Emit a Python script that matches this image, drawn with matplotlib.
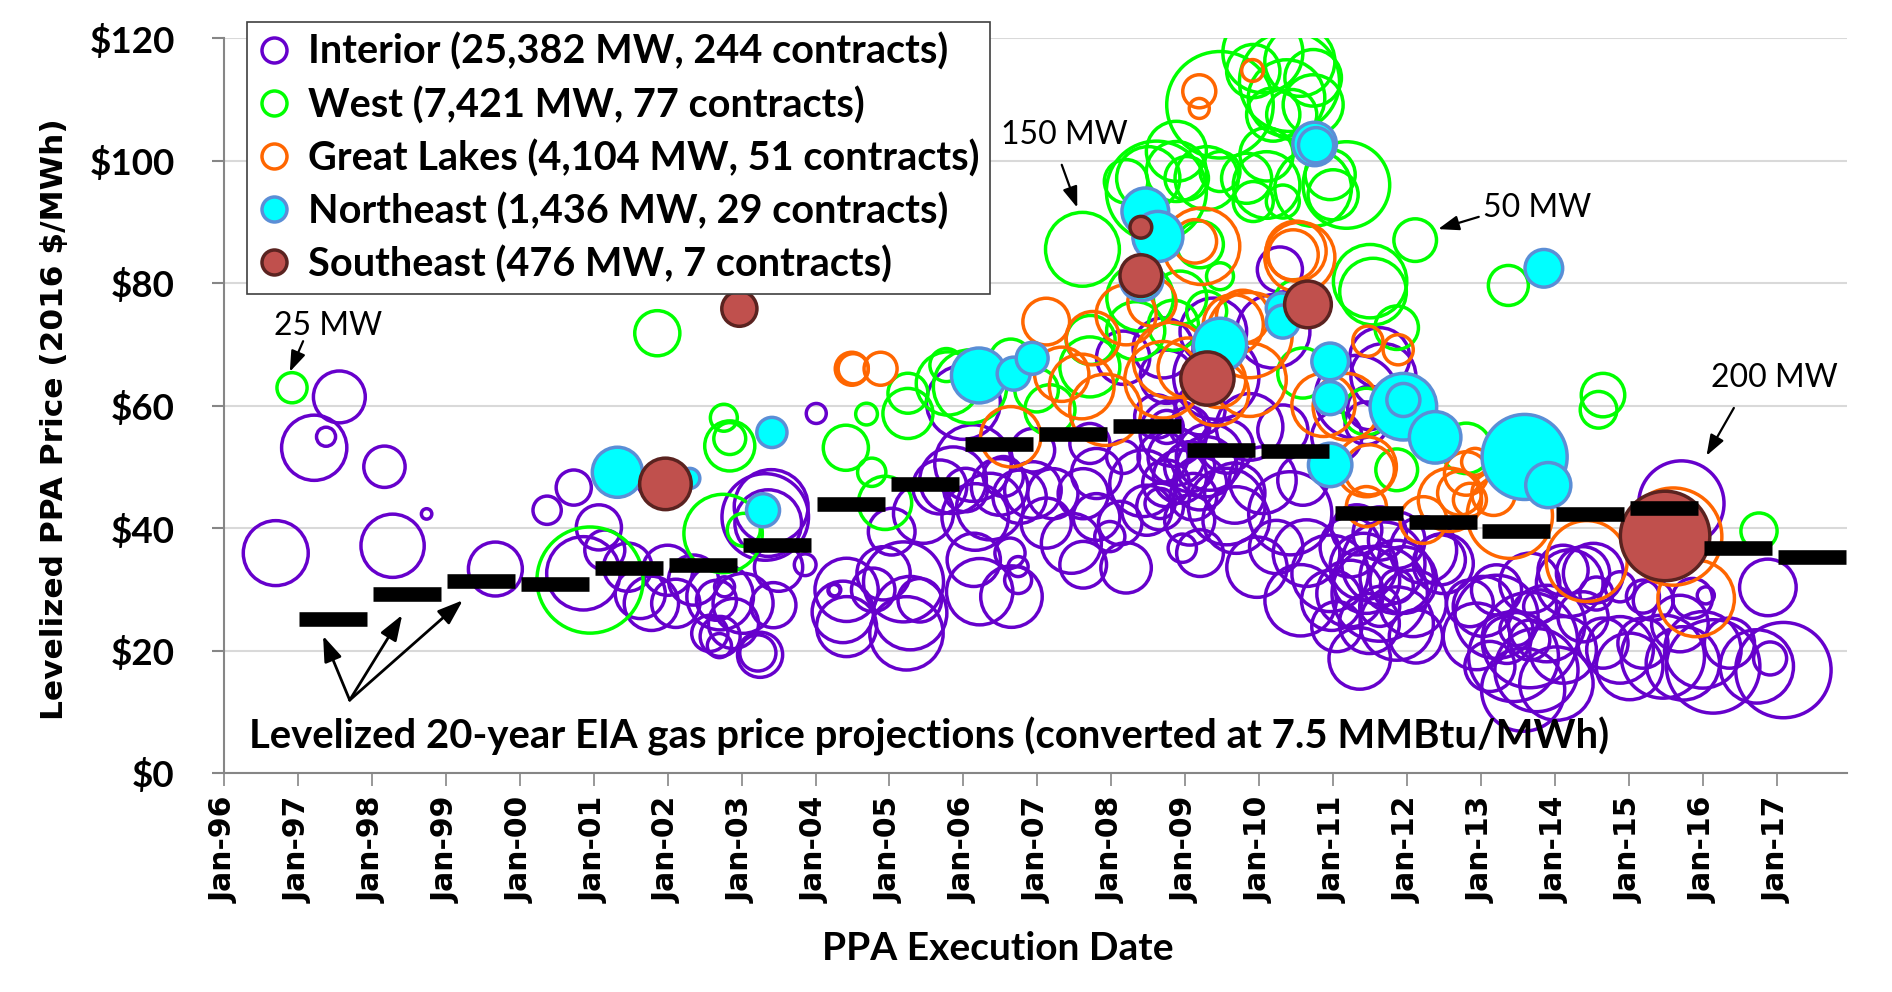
import matplotlib
matplotlib.use("Agg")
import matplotlib.pyplot as plt
from matplotlib.lines import Line2D
from matplotlib.font_manager import FontProperties
import numpy as np

# ---------------- data: (execution year, levelized price $/MWh, capacity MW) ----------------
interior = [
    (1996.70, 35.9, 116), (1997.22, 53.1, 117), (1997.38, 54.9, 10), (1997.56, 61.4, 74),
    (1998.17, 50.0, 47), (1998.28, 37.1, 110), (1998.74, 42.3, 3), (1999.67, 33.3, 80),
    (2000.37, 42.9, 22), (2000.73, 46.6, 34), (2000.86, 32.6, 148), (2001.07, 40.1, 56),
    (2001.15, 36.4, 44), (2001.80, 47.4, 25), (2002.00, 33.1, 69), (2001.63, 29.3, 69),
    (2002.35, 31.5, 69), (2001.46, 33.6, 64), (2001.78, 27.7, 81), (2002.11, 27.7, 64),
    (2002.57, 22.8, 36), (2002.66, 28.2, 44), (2002.70, 20.8, 16),
    (2003.32, 41.8, 206), (2003.36, 40.8, 122), (2003.40, 43.5, 150), (2003.86, 34.0, 13),
    (2004.25, 29.8, 4), (2004.01, 58.7, 11), (2002.71, 28.8, 122), (2003.02, 27.7, 99),
    (2003.43, 27.4, 56), (2002.71, 22.3, 44), (2003.25, 19.3, 56), (2002.77, 30.4, 11),
    (2002.89, 24.4, 69), (2003.22, 19.6, 36), (2003.50, 33.6, 64),
    (2004.42, 29.9, 110), (2004.37, 26.3, 104), (2004.26, 29.9, 4), (2004.42, 23.9, 99),
    (2004.78, 29.9, 52), (2004.92, 32.6, 78), (2005.19, 31.2, 176), (2005.28, 26.1, 148),
    (2005.41, 28.2, 52), (2005.23, 22.8, 148), (2005.03, 39.4, 60), (2005.46, 42.4, 99),
    (2005.86, 47.8, 122), (2005.68, 46.7, 80),
    (2006.65, 28.8, 104), (2006.74, 31.5, 20), (2006.74, 33.7, 11), (2006.14, 34.8, 78),
    (2006.16, 41.8, 122), (2006.03, 46.2, 52), (2006.36, 43.5, 122), (2006.49, 46.7, 88),
    (2006.94, 46.2, 88), (2007.12, 40.8, 69), (2007.46, 37.5, 99), (2007.80, 41.8, 60),
    (2007.98, 38.6, 25), (2008.12, 40.8, 52), (2008.48, 42.9, 69), (2008.66, 44.0, 25),
    (2008.96, 36.7, 22), (2008.88, 51.6, 88), (2007.80, 48.9, 69), (2008.16, 51.6, 30),
    (2006.94, 52.7, 52), (2006.13, 50.6, 161), (2006.00, 60.5, 150), (2006.54, 48.4, 44),
    (2006.76, 45.1, 78), (2007.21, 45.6, 69), (2007.62, 45.6, 69), (2008.43, 47.3, 122),
    (2008.74, 47.3, 60), (2009.20, 47.3, 78), (2007.71, 53.8, 44), (2008.61, 58.2, 52),
    (2006.63, 35.9, 25), (2006.22, 29.6, 121), (2007.62, 34.0, 60), (2008.20, 33.5, 70),
    (2010.28, 82.2, 56), (2009.38, 72.1, 122), (2010.19, 72.1, 148), (2008.70, 69.4, 99),
    (2008.16, 67.8, 78), (2011.63, 67.8, 99), (2008.75, 64.7, 78), (2008.84, 55.5, 122),
    (2009.20, 59.3, 69), (2009.33, 51.6, 122), (2009.06, 50.0, 69), (2009.42, 64.7, 200),
    (2011.68, 64.8, 116), (2011.32, 61.4, 190), (2011.45, 57.1, 50), (2009.87, 56.5, 122),
    (2010.32, 56.0, 69), (2009.56, 53.3, 78), (2009.06, 56.5, 44), (2008.75, 56.5, 30),
    (2008.70, 51.6, 69), (2008.93, 48.4, 78), (2009.29, 50.0, 99), (2009.56, 43.5, 161),
    (2009.11, 45.1, 60), (2008.66, 43.5, 60), (2010.05, 47.8, 122), (2010.42, 42.4, 190),
    (2010.23, 36.9, 78), (2010.64, 35.9, 122), (2010.59, 47.8, 69), (2011.05, 54.9, 69),
    (2011.49, 59.6, 52), (2009.06, 41.3, 69), (2009.69, 41.3, 122), (2009.20, 35.9, 60),
    (2009.97, 33.6, 100), (2010.98, 28.2, 100), (2010.56, 28.2, 140), (2009.67, 45.7, 100),
    (2010.96, 32.6, 161), (2011.23, 36.9, 99), (2011.45, 31.5, 122), (2011.68, 34.2, 190),
    (2011.95, 31.5, 122), (2012.49, 34.2, 99), (2011.32, 39.7, 69), (2011.86, 38.0, 88),
    (2011.36, 18.7, 104), (2011.63, 29.3, 250), (2011.41, 33.7, 122), (2011.86, 32.0, 148),
    (2012.08, 27.7, 122), (2012.22, 36.4, 122), (2012.45, 34.8, 69), (2011.86, 24.4, 148),
    (2011.23, 29.3, 122), (2011.05, 23.9, 69), (2011.63, 39.1, 78), (2011.49, 24.4, 99),
    (2012.12, 22.3, 78), (2011.63, 27.2, 44), (2011.86, 30.5, 30),
    (2013.66, 21.7, 250), (2013.21, 25.5, 190), (2013.44, 19.0, 222), (2013.89, 24.4, 161),
    (2013.75, 16.8, 190), (2014.11, 20.1, 122), (2013.21, 29.9, 69), (2013.03, 27.2, 99),
    (2012.94, 22.3, 122), (2013.66, 31.0, 99), (2014.20, 31.0, 122), (2014.11, 33.1, 69),
    (2013.57, 13.6, 190), (2014.02, 14.6, 148), (2013.35, 21.7, 60), (2013.66, 21.7, 44),
    (2013.12, 17.4, 69), (2012.85, 27.7, 60), (2014.38, 25.5, 69), (2013.80, 27.2, 30),
    (2013.48, 23.5, 30), (2014.56, 29.3, 30), (2014.38, 32.6, 78), (2014.52, 32.6, 99),
    (2014.88, 20.1, 122), (2014.65, 21.2, 69), (2015.19, 21.2, 69), (2015.01, 17.4, 122),
    (2015.46, 19.0, 190), (2015.73, 17.9, 148), (2016.00, 20.1, 161), (2016.14, 17.4, 240),
    (2016.36, 21.2, 69), (2015.69, 24.4, 88), (2015.33, 28.2, 44), (2016.04, 29.0, 8),
    (2015.86, 28.5, 44), (2014.88, 30.4, 25), (2015.19, 28.8, 30), (2016.88, 30.3, 88),
    (2016.91, 18.7, 30), (2017.09, 16.8, 250), (2016.73, 17.4, 148), (2015.71, 44.0, 200),
]

west = [
    (1996.92, 62.9, 25), (2000.95, 31.5, 310), (2001.86, 71.8, 56), (2002.76, 58.0, 20),
    (2002.84, 54.6, 28), (2002.84, 53.4, 69), (2002.75, 39.1, 169), (2003.03, 39.7, 30),
    (2004.41, 53.1, 56), (2004.69, 58.6, 13), (2004.76, 49.1, 22), (2004.94, 44.1, 78),
    (2005.25, 62.0, 44), (2005.25, 58.7, 69), (2005.77, 66.6, 30), (2006.09, 63.1, 148),
    (2005.79, 63.6, 110), (2006.64, 67.4, 49), (2006.99, 62.5, 52), (2007.71, 66.3, 99),
    (2007.17, 59.3, 69), (2007.61, 85.5, 150), (2009.47, 109.1, 312), (2010.41, 112.9, 275),
    (2010.05, 117.6, 176), (2010.73, 113.5, 88), (2010.37, 110.2, 161), (2010.44, 107.5, 69),
    (2010.19, 107.5, 78), (2010.73, 109.1, 99), (2010.55, 116.2, 135), (2009.92, 114.6, 78),
    (2008.88, 101.5, 99), (2008.61, 95.0, 275), (2008.50, 97.1, 110), (2008.88, 98.2, 99),
    (2009.02, 97.1, 52), (2009.47, 98.2, 44), (2009.29, 97.1, 110), (2009.83, 97.1, 69),
    (2010.10, 101.0, 78), (2009.92, 93.3, 44), (2010.32, 93.3, 30), (2010.10, 96.0, 122),
    (2010.96, 97.7, 69), (2011.18, 96.0, 206), (2011.00, 94.4, 69), (2010.73, 95.5, 161),
    (2008.20, 96.6, 52), (2012.11, 87.0, 50), (2011.50, 80.3, 148), (2011.54, 78.6, 122),
    (2011.86, 72.7, 52), (2013.37, 79.6, 44), (2009.47, 81.1, 20), (2009.20, 86.3, 60),
    (2008.39, 77.6, 122), (2008.93, 77.6, 78), (2009.29, 75.4, 44), (2010.50, 77.0, 52),
    (2014.65, 61.7, 52), (2014.59, 59.3, 37), (2011.86, 49.5, 48), (2012.80, 53.0, 70),
    (2010.59, 65.3, 69), (2011.45, 59.0, 60), (2008.84, 73.1, 69), (2016.76, 39.5, 36),
    (2008.33, 72.2, 93), (2007.72, 70.7, 66),
]

great_lakes = [
    (2004.49, 66.0, 30), (2004.51, 66.0, 25), (2004.88, 66.0, 30), (2009.19, 111.3, 30),
    (2009.19, 108.5, 11), (2009.91, 114.7, 13), (2009.22, 86.0, 161), (2009.13, 86.8, 52),
    (2010.50, 85.2, 99), (2010.46, 84.6, 69), (2010.55, 84.2, 135), (2007.12, 73.7, 60),
    (2008.20, 74.8, 99), (2007.75, 71.0, 78), (2009.65, 73.2, 99), (2011.47, 70.5, 25),
    (2011.88, 69.1, 25), (2009.87, 71.5, 200), (2009.87, 64.2, 148), (2010.87, 60.1, 110),
    (2011.18, 59.8, 122), (2011.45, 50.0, 99), (2011.45, 43.5, 44), (2012.22, 41.3, 60),
    (2012.80, 48.9, 52), (2012.58, 44.6, 110), (2013.39, 42.0, 200), (2013.17, 45.6, 52),
    (2012.92, 50.8, 20), (2014.43, 34.6, 180), (2008.70, 64.2, 161), (2011.49, 49.5, 69),
    (2012.85, 44.6, 30), (2015.91, 28.5, 161), (2015.60, 38.6, 260), (2007.60, 63.1, 115),
    (2006.64, 54.9, 100), (2008.81, 67.4, 158), (2009.42, 62.0, 115), (2009.78, 74.5, 77),
    (2007.92, 59.3, 140), (2008.55, 76.9, 64), (2009.04, 66.1, 100), (2009.45, 64.1, 81),
    (2007.33, 65.1, 81), (2012.71, 45.7, 53),
]

northeast = [
    (2001.32, 49.1, 69), (2002.30, 48.1, 11), (2003.41, 55.6, 25), (2003.29, 42.9, 30),
    (2006.21, 64.9, 83), (2006.68, 65.2, 30), (2006.93, 67.7, 28), (2008.46, 91.7, 60),
    (2008.63, 87.6, 69), (2008.41, 80.6, 50), (2010.75, 102.7, 52), (2010.77, 102.5, 34),
    (2009.47, 69.9, 78), (2010.96, 67.2, 37), (2010.30, 75.9, 25), (2010.32, 73.7, 30),
    (2010.96, 61.2, 30), (2011.95, 59.8, 122), (2011.95, 60.9, 30), (2012.38, 54.8, 73),
    (2010.96, 50.3, 52), (2013.59, 51.6, 199), (2013.91, 47.0, 56), (2013.85, 82.4, 39),
]

southeast = [
    (2001.97, 47.2, 73), (2002.97, 75.8, 34), (2008.40, 89.1, 13), (2008.40, 81.2, 48),
    (2009.30, 64.4, 78), (2010.66, 76.5, 60), (2015.49, 38.7, 220),
]

gas_years = [1997, 1998, 1999, 2000, 2001, 2002, 2003, 2004, 2005, 2006, 2007,
             2008, 2009, 2010, 2011, 2012, 2013, 2014, 2015, 2016, 2017]
gas_prices = [25.1, 29.3, 31.4, 30.8, 33.4, 34.0, 37.3, 43.9, 47.2, 53.7, 55.3,
              56.7, 52.7, 52.5, 42.5, 40.9, 39.5, 42.3, 43.3, 36.8, 35.2]

legend_labels = [
    "Interior (25,382 MW, 244 contracts)",
    "West (7,421 MW, 77 contracts)",
    "Great Lakes (4,104 MW, 51 contracts)",
    "Northeast (1,436 MW, 29 contracts)",
    "Southeast (476 MW, 7 contracts)",
]
year_ticks = list(range(1996, 2018))
year_labels = ["Jan-%02d" % (y % 100) for y in year_ticks]
price_ticks = [0, 20, 40, 60, 80, 100, 120]
price_labels = ["$%d" % p for p in price_ticks]

# ---------------- styling ----------------
C_INT = "#6600CC"
C_WEST = "#00FF00"
C_GL = "#FF6600"
C_NE_FACE, C_NE_EDGE = "#00FFFF", "#5B8ED6"
C_SE_FACE, C_SE_EDGE = "#C0504D", "#5A2320"
MW_TO_S = 18.85        # marker area (pt^2) per MW
LW = 2.5

CAL = "Lato"
fig = plt.figure(figsize=(18.92, 9.92), dpi=100)
ax = fig.add_axes([224 / 1892, 1 - 773 / 992, 1623 / 1892, 735 / 992])
ax.set_xlim(1996, 2017.95)
ax.set_ylim(0, 120)


def draw(series, face, edge, z):
    arr = np.array(series, dtype=float)
    ax.scatter(arr[:, 0], arr[:, 1], s=arr[:, 2] * MW_TO_S, facecolors=face,
               edgecolors=edge, linewidths=LW, zorder=z)


draw(interior, "none", C_INT, 3)
draw(west, "none", C_WEST, 4)
draw(great_lakes, "none", C_GL, 5)
draw(northeast, C_NE_FACE, C_NE_EDGE, 6)
draw(southeast, C_SE_FACE, C_SE_EDGE, 7)

ax.hlines(gas_prices, np.array(gas_years) + 0.02, np.array(gas_years) + 0.94,
          colors="black", linewidth=10.5, zorder=8, capstyle="butt")

# grid / spines / ticks
ax.set_yticks(price_ticks)
ax.set_yticklabels(price_labels)
ax.set_xticks(year_ticks)
ax.set_xticklabels(year_labels, rotation=90)
ax.yaxis.grid(True, color="#D9D9D9", linewidth=1.5, zorder=0)
ax.set_axisbelow(True)
for s in ("top", "right"):
    ax.spines[s].set_visible(False)
for s in ("left", "bottom"):
    ax.spines[s].set_color("#868686")
    ax.spines[s].set_linewidth(1.5)
ax.tick_params(axis="y", direction="out", length=8.5, width=1.5, color="#868686", pad=27)
ax.tick_params(axis="x", direction="out", length=9, width=1.2, color="#868686", pad=8)
for t in ax.get_yticklabels():
    t.set_fontproperties(FontProperties(family=CAL, weight="bold", size=26.5))
for t in ax.get_xticklabels():
    t.set_fontproperties(FontProperties(family="DejaVu Sans", weight="bold", size=21.5))

fig.text(55 / 1892, 1 - 419 / 992, "Levelized PPA Price (2016 $/MWh)", rotation=90,
         ha="center", va="center", fontfamily="DejaVu Sans", fontweight="bold", fontsize=22.5)
fig.text(998 / 1892, 1 - 948 / 992, "PPA Execution Date", ha="center", va="center",
         fontfamily=CAL, fontweight="bold", fontsize=28)

# annotations
ax.text(2005.53, 6.0, "Levelized 20-year EIA gas price projections (converted at 7.5 MMBtu/MWh)",
        ha="center", va="center", fontfamily=CAL, fontweight="bold", fontsize=28.8, zorder=9)
arrow_kw = dict(arrowstyle="-|>,head_length=0.7,head_width=0.25", color="black", lw=2,
                mutation_scale=22, shrinkA=0, shrinkB=0)
for head in [(1997.34, 22.4), (1998.41, 25.8), (1999.23, 28.2)]:
    ax.annotate("", xy=head, xytext=(1997.70, 11.9), arrowprops=arrow_kw, zorder=9)

mw_notes = [
    ("25 MW", (1997.41, 73.0), (1997.07, 70.5), (1996.89, 65.5)),
    ("150 MW", (2007.36, 104.2), (2007.33, 99.3), (2007.54, 92.3)),
    ("50 MW", (2013.76, 92.3), (2012.97, 90.8), (2012.42, 88.8)),
    ("200 MW", (2016.97, 64.5), (2016.42, 59.6), (2016.05, 51.8)),
]
small_kw = dict(arrowstyle="-|>,head_length=0.7,head_width=0.25", color="black", lw=1.6,
                mutation_scale=18, shrinkA=0, shrinkB=0)
for txt, tpos, tail, head in mw_notes:
    ax.text(tpos[0], tpos[1], txt, ha="center", va="center", fontfamily=CAL, fontsize=23,
            zorder=9)
    ax.annotate("", xy=head, xytext=tail, arrowprops=small_kw, zorder=9)

# legend
handles = [
    Line2D([], [], ls="none", marker="o", ms=18, mfc="none", mec=C_INT, mew=2.5),
    Line2D([], [], ls="none", marker="o", ms=18, mfc="none", mec=C_WEST, mew=2.5),
    Line2D([], [], ls="none", marker="o", ms=18, mfc="none", mec=C_GL, mew=2.5),
    Line2D([], [], ls="none", marker="o", ms=18, mfc=C_NE_FACE, mec=C_NE_EDGE, mew=2.5),
    Line2D([], [], ls="none", marker="o", ms=18, mfc=C_SE_FACE, mec=C_SE_EDGE, mew=2.5),
]
leg = fig.legend(handles, legend_labels, loc="upper left",
                 bbox_to_anchor=(247 / 1892, 1 - 22 / 992), frameon=True, fancybox=False,
                 edgecolor="#404040", framealpha=1,
                 prop=FontProperties(family=CAL, weight="bold", size=28.5),
                 handlelength=0.8, handletextpad=0.45, labelspacing=0.38, borderpad=0.28,
                 borderaxespad=0)
leg.get_frame().set_linewidth(1.2)

fig.savefig("out.png", dpi=100)
